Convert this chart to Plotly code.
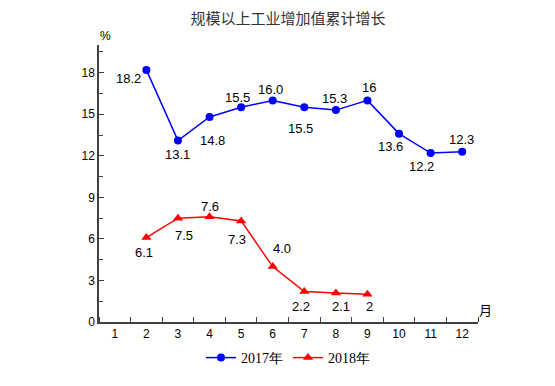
import plotly.graph_objects as go

months = list(range(1, 13))
x_2017 = [2, 3, 4, 5, 6, 7, 8, 9, 10, 11, 12]
y_2017 = [18.2, 13.1, 14.8, 15.5, 16.0, 15.5, 15.3, 16.0, 13.6, 12.2, 12.3]
lbl_2017 = ["18.2", "13.1", "14.8", "15.5", "16.0", "15.5", "15.3", "16", "13.6", "12.2", "12.3"]
x_2018 = [2, 3, 4, 5, 6, 7, 8, 9]
y_2018 = [6.1, 7.5, 7.6, 7.3, 4.0, 2.2, 2.1, 2.0]
lbl_2018 = ["6.1", "7.5", "7.6", "7.3", "4.0", "2.2", "2.1", "2"]
y_ticks = [0, 3, 6, 9, 12, 15, 18]

# label offsets in pixels (dx right, dy down)
off_2017 = [(-18, 9), (0, 14), (3, 23), (-4, -10), (-2, -11), (-4, 21), (-1, -12), (2, -13), (-9, 13), (-9, 13), (-1, -12)]
off_2018 = [(-2, 15), (6, 17), (0, -10), (-4, 19), (9, -18), (-3, 15), (5, 14), (2, 12)]

fig = go.Figure()
fig.add_trace(go.Scatter(x=x_2017, y=y_2017, mode="lines+markers", name="2017年",
                         line=dict(color="#0000FF", width=1.5),
                         marker=dict(symbol="circle", size=8, color="#0000FF")))
fig.add_trace(go.Scatter(x=x_2018, y=y_2018, mode="lines+markers", name="2018年",
                         line=dict(color="#FF0000", width=1.5),
                         marker=dict(symbol="triangle-up", size=9, color="#FF0000")))

lab_font = dict(family="Liberation Sans, Arial", size=13, color="#000")
for xs, ys, ls, offs in [(x_2017, y_2017, lbl_2017, off_2017), (x_2018, y_2018, lbl_2018, off_2018)]:
    for xv, yv, t, (dx, dy) in zip(xs, ys, ls, offs):
        fig.add_annotation(x=xv, y=yv, text=t, showarrow=False, xshift=dx, yshift=-dy,
                           font=lab_font, xanchor="center", yanchor="middle")

fig.add_annotation(xref="paper", yref="paper", x=0, y=1, text="%", showarrow=False,
                   xanchor="left", yanchor="bottom", xshift=-1, yshift=0,
                   font=dict(family="Liberation Sans, Arial", size=12, color="#000"))
fig.add_annotation(xref="paper", yref="paper", x=1, y=0, text="月", showarrow=False,
                   xanchor="left", yanchor="bottom", xshift=-1, yshift=1,
                   font=dict(family="Noto Sans CJK SC", size=13, color="#000"))

W, H = 555, 386
fig.update_layout(
    width=W, height=H,
    margin=dict(l=91, r=85, t=37, b=72, autoexpand=False),
    paper_bgcolor="white", plot_bgcolor="white",
    title=dict(text="规模以上工业增加值累计增长", x=280 / W, xanchor="center", xref="container",
               y=1 - 11 / H, yanchor="middle", yref="container", automargin=False,
               font=dict(family="Noto Sans CJK SC", size=15, color="#333")),
    showlegend=True,
    legend=dict(orientation="h", x=280 / W, xanchor="center", xref="container",
                y=36 / H, yanchor="middle", yref="container",
                font=dict(family="Liberation Serif, Times New Roman", size=14, color="#000"),
                itemwidth=30, tracegroupgap=0),
    xaxis=dict(range=[0.5, 12.5], tickvals=months, ticktext=[str(m) for m in months], automargin=False,
               ticks="", showgrid=False, zeroline=False, showline=True, linecolor="#404040", linewidth=1.5,
               tickfont=dict(family="Liberation Sans, Arial", size=12, color="#000"),
               minor=dict(tick0=0.5, dtick=1, ticks="inside", ticklen=5, tickcolor="#404040", showgrid=False)),
    yaxis=dict(range=[0, 20], tickvals=y_ticks, ticks="inside", ticklen=5, tickcolor="#404040", automargin=False,
               showgrid=False, zeroline=False, showline=True, linecolor="#404040", linewidth=1.5,
               tickfont=dict(family="Liberation Sans, Arial", size=12, color="#000"),
               minor=dict(tick0=0, dtick=1.5, ticks="inside", ticklen=4, tickcolor="#404040", showgrid=False)),
)

fig.write_html("out.html")
